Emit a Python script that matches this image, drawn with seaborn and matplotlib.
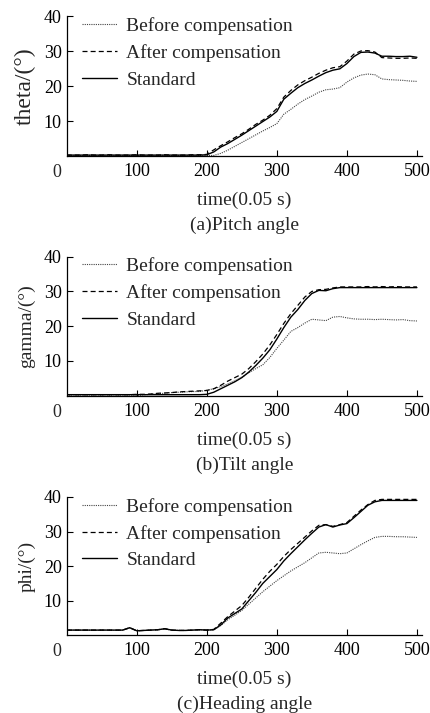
import numpy as np
import pandas as pd
import seaborn as sns
from matplotlib import pyplot as plt

# Zeitachse (0.05 s Schritte)
time = [0, 10, 20, 30, 40, 50, 60, 70, 80, 90,
        100, 110, 120, 130, 140, 150, 160, 170, 180, 190,
        200, 210, 220, 230, 240, 250, 260, 270, 280, 290,
        300, 310, 320, 330, 340, 350, 360, 370, 380, 390,
        400, 410, 420, 430, 440, 450, 460, 470, 480, 490, 500]

# (a) Pitch angle
pitch_before = [0.2, 0.2, 0.2, 0.2, 0.2, 0.2, 0.2, 0.2, 0.2, 0.2,
                0.2, 0.2, 0.2, 0.2, 0.2, 0.2, 0.2, 0.2, 0.2, 0.2,
                0.2, 0.2, 0.8, 1.7, 2.8, 3.9, 5.0, 6.1, 7.2, 8.2,
                9.3, 12.0, 13.4, 14.9, 16.2, 17.2, 18.3, 19.0, 19.2, 19.6,
                21.2, 22.4, 23.2, 23.5, 23.3, 22.1, 21.9, 21.8, 21.7, 21.5, 21.4]
pitch_after = [0.3, 0.3, 0.3, 0.4, 0.3, 0.3, 0.4, 0.3, 0.3, 0.3,
               0.4, 0.3, 0.3, 0.3, 0.4, 0.3, 0.3, 0.3, 0.4, 0.4,
               0.5, 1.8, 3.0, 4.1, 5.3, 6.4, 7.7, 9.1, 10.3, 11.7,
               13.6, 16.9, 18.8, 20.4, 21.6, 22.6, 23.7, 24.6, 25.3, 25.6,
               27.2, 29.2, 30.1, 30.2, 29.8, 28.2, 28.1, 28.0, 28.0, 28.1, 28.0]
pitch_std = [0.3, 0.3, 0.3, 0.3, 0.3, 0.3, 0.3, 0.3, 0.3, 0.3,
             0.3, 0.3, 0.3, 0.3, 0.3, 0.3, 0.3, 0.3, 0.3, 0.3,
             0.4, 1.2, 2.6, 3.6, 4.8, 6.0, 7.3, 8.6, 9.9, 11.2,
             12.8, 16.3, 18.0, 19.6, 20.8, 21.8, 22.9, 23.9, 24.6, 25.0,
             26.5, 28.5, 29.7, 29.8, 29.5, 28.6, 28.6, 28.5, 28.5, 28.6, 28.3]

# (b) Tilt angle
tilt_before = [0.2, 0.2, 0.2, 0.2, 0.2, 0.2, 0.2, 0.2, 0.2, 0.2,
               0.1, 0.2, 0.4, 0.6, 0.7, 0.9, 1.0, 1.1, 1.2, 1.2,
               1.6, 2.0, 2.6, 3.4, 4.3, 5.3, 6.6, 7.8, 8.9, 11.0,
               13.6, 16.0, 18.5, 19.6, 20.9, 22.0, 21.8, 21.6, 22.6, 22.8,
               22.4, 22.1, 22.0, 22.0, 21.9, 22.0, 21.9, 21.8, 21.9, 21.6, 21.5]
tilt_after = [0.3, 0.3, 0.3, 0.3, 0.3, 0.3, 0.3, 0.3, 0.3, 0.3,
              0.4, 0.4, 0.5, 0.7, 0.8, 0.9, 1.1, 1.2, 1.3, 1.4,
              1.5, 2.0, 3.0, 4.2, 5.2, 6.2, 7.8, 9.8, 12.0, 14.6,
              17.6, 20.8, 23.6, 26.0, 28.4, 30.0, 30.5, 30.6, 31.0, 31.3,
              31.3, 31.3, 31.3, 31.4, 31.3, 31.4, 31.3, 31.4, 31.3, 31.3, 31.3]
tilt_std = [0.3, 0.3, 0.3, 0.3, 0.3, 0.3, 0.3, 0.3, 0.3, 0.3,
            0.3, 0.3, 0.3, 0.3, 0.3, 0.3, 0.3, 0.3, 0.3, 0.3,
            0.4, 1.0, 2.0, 3.0, 4.0, 5.2, 6.8, 8.7, 10.8, 13.2,
            16.3, 19.6, 22.6, 24.8, 27.4, 29.4, 30.3, 30.2, 30.8, 31.1,
            31.1, 31.1, 31.1, 31.1, 31.1, 31.1, 31.1, 31.1, 31.1, 31.1, 31.1]

# (c) Heading angle
head_before = [1.5, 1.5, 1.5, 1.5, 1.4, 1.5, 1.5, 1.4, 1.5, 2.1,
               1.3, 1.4, 1.5, 1.6, 1.8, 1.5, 1.4, 1.4, 1.5, 1.6,
               1.5, 1.6, 2.8, 4.5, 5.8, 7.2, 9.0, 10.8, 12.6, 14.2,
               15.8, 17.2, 18.6, 19.8, 21.0, 22.4, 23.8, 24.0, 23.8, 23.6,
               23.8, 25.0, 26.2, 27.3, 28.3, 28.6, 28.6, 28.5, 28.5, 28.4, 28.3]
head_after = [1.5, 1.5, 1.5, 1.5, 1.5, 1.5, 1.5, 1.5, 1.5, 2.2,
              1.3, 1.4, 1.5, 1.6, 1.9, 1.5, 1.4, 1.4, 1.5, 1.6,
              1.5, 1.7, 3.5, 5.4, 7.0, 8.6, 11.0, 13.6, 16.2, 18.5,
              20.5, 22.8, 24.8, 26.6, 28.4, 30.2, 31.8, 32.0, 31.5, 32.0,
              32.6, 34.4, 36.2, 37.8, 39.0, 39.3, 39.3, 39.3, 39.3, 39.3, 39.3]
head_std = [1.5, 1.5, 1.5, 1.5, 1.5, 1.5, 1.5, 1.5, 1.5, 2.2,
            1.3, 1.4, 1.5, 1.6, 1.9, 1.5, 1.4, 1.4, 1.5, 1.6,
            1.5, 1.6, 3.0, 5.0, 6.3, 7.6, 10.0, 12.4, 15.0, 17.0,
            19.0, 21.5, 23.6, 25.6, 27.6, 29.5, 31.3, 32.0, 31.3, 31.9,
            32.3, 34.0, 35.8, 37.6, 38.6, 39.0, 39.0, 39.0, 39.0, 39.0, 39.0]

serien = ["Before compensation", "After compensation", "Standard"]
panels = [
    ("theta/(°)", 17, "(a)Pitch angle", [pitch_before, pitch_after, pitch_std]),
    ("gamma/(°)", 14, "(b)Tilt angle", [tilt_before, tilt_after, tilt_std]),
    ("phi/(°)", 14, "(c)Heading angle", [head_before, head_after, head_std]),
]

stile = {
    "Before compensation": dict(color="#444444", linestyle=(0, (1, 1)), linewidth=0.8),
    "After compensation": dict(color="black", linestyle=(0, (4, 2.5)), linewidth=0.9),
    "Standard": dict(color="black", linestyle="-", linewidth=1.0),
}

sns.set_theme(style="ticks")
plt.rcParams['font.family'] = ['Liberation Serif', 'DejaVu Serif']

fig = plt.figure(figsize=(4.30, 7.13), dpi=100)

# Achsenpositionen (Figurkoordinaten)
boxen = [(0.155, 0.781, 0.826, 0.196),
         (0.155, 0.445, 0.826, 0.195),
         (0.155, 0.109, 0.826, 0.194)]

for (ylabel, ygr, titel, werte), box in zip(panels, boxen):
    ax = fig.add_axes(box)
    for name, y in zip(serien, werte):
        sns.lineplot(x=time, y=y, ax=ax, label=name, **stile[name])
    ax.set_xlim(0, 507)
    ax.set_ylim(0, 40)
    ax.set_xticks([100, 200, 300, 400, 500])
    ax.set_yticks([10, 20, 30, 40])
    ax.tick_params(direction="in", length=4, width=0.8, labelsize=13, colors="black")
    ax.tick_params(axis="x", pad=5)
    ax.tick_params(axis="y", pad=3.5)
    sns.despine(ax=ax)
    for s in ["left", "bottom"]:
        ax.spines[s].set_linewidth(0.9)
        ax.spines[s].set_color("black")
    ax.set_ylabel(ylabel, fontsize=ygr, labelpad=6)
    ax.set_xlabel("")
    # Ursprung "0" an der Ecke
    ax.annotate("0", xy=(0, 0), xycoords="axes fraction", xytext=(-7, -12),
                textcoords="offset points", ha="center", va="center", fontsize=13)
    ax.annotate("time(0.05 s)", xy=(0.5, 0), xycoords="axes fraction", xytext=(0, -32),
                textcoords="offset points", ha="center", va="center", fontsize=14)
    ax.annotate(titel, xy=(0.5, 0), xycoords="axes fraction", xytext=(0, -50),
                textcoords="offset points", ha="center", va="center", fontsize=14)
    ax.legend(loc="upper left", bbox_to_anchor=(0.042, 0.995), frameon=False,
              fontsize=14, handlelength=1.8, handletextpad=0.5, labelspacing=0.47,
              borderpad=0, borderaxespad=0)

fig.savefig("out.png", dpi=100)
